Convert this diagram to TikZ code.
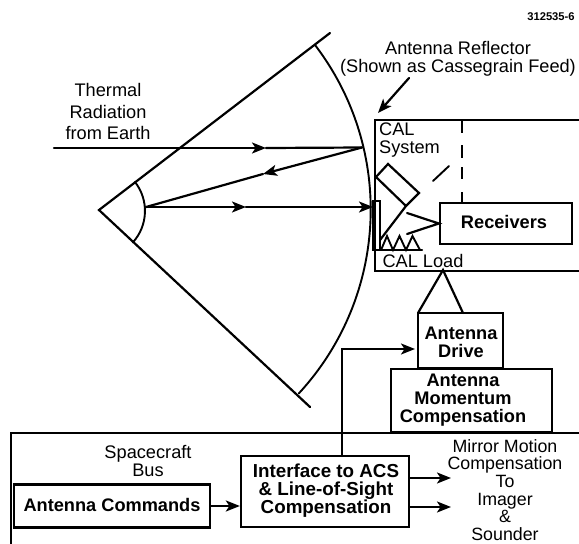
\documentclass[tikz,border=0pt]{standalone}
\usepackage{fontspec}
\setmainfont{Liberation Sans}
\usetikzlibrary{arrows.meta,calc}
\tikzset{
  line/.style={line width=2.2pt,line cap=round,line join=miter},
  thin line/.style={line width=1.9pt,line cap=round},
  tip/.style={-{Stealth[length=14pt,width=11pt,inset=3.5pt]}},
  box/.style={draw,line width=2.3pt,inner sep=0pt},
  label/.style={inner sep=0pt,align=center,font=\fontsize{18.2}{17.6}\selectfont},
  blabel/.style={inner sep=0pt,align=center,font=\fontsize{18.2}{18}\selectfont\bfseries},
}
\begin{document}
\begin{tikzpicture}[x=1pt,y=-1pt]
\useasboundingbox (0,0) rectangle (579,544);
% sector
\coordinate (apex) at (99,210);
\coordinate (top) at (330,33);
\coordinate (bot) at (310,407);
\draw[line] (top) -- (apex) -- (bot);
\draw[thin line] (315,45) arc[start angle=-37.4,end angle=42.7,radius=271];
\draw[thin line] (135,182) arc[start angle=-38,end angle=42,radius=47];
% rays
\coordinate (earth) at (54,148);
\coordinate (hit) at (362,147.5);
\coordinate (focus) at (146,207);
\coordinate (sub) at (373,207);
\coordinate (m1) at (266,148);
\coordinate (m2) at (263,174);
\coordinate (m3) at (246,207);
\draw[line,tip] (earth) -- (m1);
\draw[line] (m1) -- (hit);
\draw[line,tip] (hit) -- (m2);
\draw[line] (m2) -- (focus);
\draw[line,tip] (focus) -- (m3);
\draw[line,tip] (m3) -- (sub);
% CAL box
\node[box,anchor=north west,minimum width=205pt,minimum height=151pt] (cal) at (374,119) {};
\draw[line] (373,201) rectangle (380,250);
% dashes in box
\draw[line,line width=2.8pt,line cap=butt] (462,120) -- (462,133) (462,145) -- (462,158) (462,167) -- (462,179) (462,192) -- (462,203);
\draw[thin line] (433,181) -- (449,166);
% reflector block
\draw[line] (406,206) -- (376,177) -- (388,164) -- (419,193) -- (406,206) -- (380,240);
% receivers
\node[box,minimum width=132pt,minimum height=41pt] (rec) at (506,223.5) {};
\node[blabel] at (504,222) {Receivers};
\coordinate (r1) at (407,213);
\coordinate (r2) at (407,234);
\draw[line] (r1) -- (rec.west) -- (r2);
% load
\draw[line] (373,250) -- (422,250);
\draw[thin line,line join=miter] (381,250) -- (387,236) -- (393,250) -- (399.5,236) -- (406,250) -- (412.5,236) -- (420,250);
% CAL text
\node[label,align=left,anchor=west] at (379,140) {CAL\\System};
\node[label] at (423,261) {CAL Load};
% drive
\node[box,minimum width=85pt,minimum height=55pt] (drive) at (460.5,340.5) {};
\node[blabel] at (461,342.5) {Antenna\\Drive};
\node[box,minimum width=161pt,minimum height=63pt] (mom) at (471.5,400.5) {};
\node[blabel] at (463,400) {Antenna\\Momentum\\Compensation};
\coordinate (pivot) at (443,270);
\draw[line] (418,313) -- (pivot) -- (463,313);
% bus
\draw[line] (579,433) -- (11,433) -- (11,544);
\node[label] at (148,461) {Spacecraft\\Bus};
\node[box,minimum width=196pt,minimum height=43pt] (cmd) at (112,506) {};
\node[blabel] at (112,505) {Antenna Commands};
\node[box,minimum width=168pt,minimum height=71pt] (iface) at (325,491.5) {};
\node[blabel,font=\fontsize{18.8}{18}\selectfont\bfseries] at (326,491) {Interface to ACS\\\& Line-of-Sight\\Compensation};
\draw[line,tip] (cmd.east) -- (cmd.east -| iface.west);
\coordinate (o1) at (451,478);
\coordinate (o2) at (451,507);
\draw[line,tip] (o1 -| iface.east) -- (o1);
\draw[line,tip] (o2 -| iface.east) -- (o2);
\coordinate (bend) at (342,349);
\draw[line,tip] (342,456) -- (bend) -- (415,349);
\node[label,font=\fontsize{17.8}{17.6}\selectfont] at (505,490) {Mirror Motion\\Compensation\\To\\Imager\\\&\\Sounder};
% labels
\node[label] at (108,111.5) {Thermal\\[3.5pt]Radiation\\[3.5pt]from Earth};
\node[label] at (458,58.5) {Antenna Reflector\\(Shown as Cassegrain Feed)};
\coordinate (a1) at (409,78);
\coordinate (a2) at (378,113);
\draw[line,tip] (a1) -- (a2);
\node[inner sep=0pt,font=\fontsize{11.2}{12}\selectfont\bfseries] at (551,17) {312535-6};
\end{tikzpicture}
\end{document}
